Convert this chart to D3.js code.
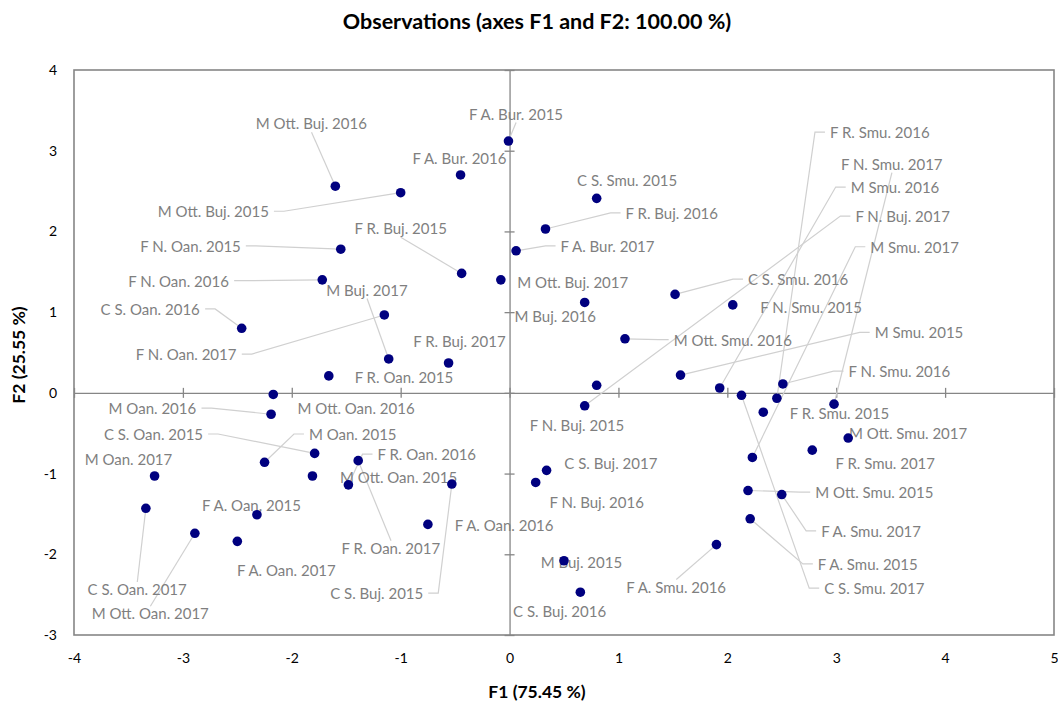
<!DOCTYPE html>
<html>
<head>
<meta charset="utf-8">
<script src="https://cdn.jsdelivr.net/npm/d3@7"></script>
<style>
  body { margin: 0; background: #fff; }
  text { font-family: Lato, "Noto Sans", sans-serif; }
</style>
</head>
<body>
<svg id="chart"></svg>
<script>
// observations, in the order of the source table
var names = [
  'F N. Oan. 2015', 'F N. Oan. 2016', 'F N. Oan. 2017',
  'C S. Oan. 2015', 'C S. Oan. 2016', 'C S. Oan. 2017',
  'M Oan. 2015', 'M Oan. 2016', 'M Oan. 2017',
  'M Ott. Oan. 2015', 'M Ott. Oan. 2016', 'M Ott. Oan. 2017',
  'F R. Oan. 2015', 'F R. Oan. 2016', 'F R. Oan. 2017',
  'F A. Oan. 2015', 'F A. Oan. 2016', 'F A. Oan. 2017',
  'M Ott. Buj. 2015', 'M Ott. Buj. 2016', 'M Ott. Buj. 2017',
  'F R. Buj. 2015', 'F R. Buj. 2016', 'F R. Buj. 2017',
  'M Buj. 2015', 'M Buj. 2016', 'M Buj. 2017',
  'F N. Buj. 2015', 'F N. Buj. 2016', 'F N. Buj. 2017',
  'C S. Buj. 2015', 'C S. Buj. 2016', 'C S. Buj. 2017',
  'F A. Bur. 2015', 'F A. Bur. 2016', 'F A. Bur. 2017',
  'C S. Smu. 2015', 'C S. Smu. 2016', 'C S. Smu. 2017',
  'F N. Smu. 2015', 'F N. Smu. 2016', 'F N. Smu. 2017',
  'M Smu. 2015', 'M Smu. 2016', 'M Smu. 2017',
  'M Ott. Smu. 2015', 'M Ott. Smu. 2016', 'M Ott. Smu. 2017',
  'F R. Smu. 2015', 'F R. Smu. 2016', 'F R. Smu. 2017',
  'F A. Smu. 2015', 'F A. Smu. 2016', 'F A. Smu. 2017'
];

var f1 = [
  -1.55, -1.72, -1.15,
  -1.79, -2.46, -3.34,
  -2.25, -2.19, -3.26,
  -1.81, -2.17, -2.89,
  -1.66, -1.48, -1.39,
  -2.32, -0.75, -2.50,
  -1.00, -1.60, -0.08,
  -0.44, 0.33, -0.56,
  0.50, 0.69, -1.11,
  0.80, 0.24, 0.69,
  -0.53, 0.65, 0.34,
  -0.01, -0.45, 0.06,
  0.80, 1.52, 2.13,
  2.05, 2.51, 2.98,
  1.57, 1.93, 2.23,
  2.19, 1.06, 3.11,
  2.33, 2.455, 2.78,
  2.21, 1.90, 2.50
];

var f2 = [
  1.78, 1.40, 0.965,
  -0.75, 0.80, -1.43,
  -0.86, -0.265, -1.03,
  -1.03, -0.02, -1.74,
  0.21, -1.14, -0.84,
  -1.51, -1.63, -1.84,
  2.48, 2.56, 1.40,
  1.48, 2.03, 0.37,
  -2.08, 1.12, 0.42,
  0.094, -1.11, -0.16,
  -1.13, -2.47, -0.96,
  3.12, 2.70, 1.76,
  2.41, 1.22, -0.03,
  1.09, 0.11, -0.14,
  0.22, 0.06, -0.80,
  -1.21, 0.67, -0.56,
  -0.24, -0.067, -0.71,
  -1.56, -1.88, -1.26
];

// where each label sits, in F1/F2 units
var labelF1 = [
  -2.93, -3.04, -2.97,
  -3.27, -3.30, -3.42,
  -1.44, -3.28, -3.50,
  -1.02, -1.41, -3.30,
  -0.97, -0.76, -1.09,
  -2.37, -0.05, -2.05,
  -2.72, -1.82, 0.58,
  -1.00, 1.49, -0.46,
  0.66, 0.42, -1.31,
  0.62, 0.80, 3.61,
  -1.22, 0.46, 0.93,
  0.06, -0.46, 0.90,
  1.08, 2.65, 3.35,
  2.77, 3.58, 3.51,
  3.76, 3.54, 3.72,
  3.35, 2.05, 3.66,
  3.03, 3.40, 3.45,
  3.29, 1.53, 3.32
];

var labelF2 = [
  1.82, 1.39, 0.48,
  -0.51, 1.04, -2.43,
  -0.51, -0.19, -0.82,
  -1.04, -0.19, -2.73,
  0.20, -0.76, -1.92,
  -1.39, -1.64, -2.19,
  2.25, 3.34, 1.37,
  2.04, 2.23, 0.64,
  -2.10, 0.95, 1.28,
  -0.40, -1.35, 2.19,
  -2.48, -2.70, -0.87,
  3.46, 2.91, 1.82,
  2.64, 1.41, -2.42,
  1.06, 0.27, 2.84,
  0.75, 2.55, 1.81,
  -1.23, 0.66, -0.50,
  -0.25, 3.23, -0.87,
  -2.12, -2.40, -1.71
];

// 1 = label is tied to its point by a leader line
var hasLeader = [
  1, 1, 1,
  1, 1, 1,
  1, 1, 0,
  0, 0, 1,
  0, 1, 1,
  0, 0, 0,
  1, 1, 0,
  1, 1, 0,
  0, 0, 1,
  0, 0, 1,
  1, 0, 0,
  1, 0, 1,
  0, 1, 1,
  0, 1, 1,
  1, 1, 1,
  1, 1, 0,
  0, 1, 0,
  1, 1, 1
];

var xTicks = [-4, -3, -2, -1, 0, 1, 2, 3, 4, 5];
var yTicks = [-3, -2, -1, 0, 1, 2, 3, 4];

var chartTitle = 'Observations (axes F1 and F2: 100.00 %)';
var xTitle = 'F1 (75.45 %)';
var yTitle = 'F2 (25.55 %)';

var data = names.map((n, i) => ({
  name: n, f1: f1[i], f2: f2[i],
  lx: labelF1[i], ly: labelF2[i], leader: hasLeader[i] === 1
}));

var width = 1058;
var height = 702;
var margin = {top: 70, right: 4, bottom: 67, left: 74};
var gray = '#868686';

var svg = d3.select('#chart')
  .attr('width', width)
  .attr('height', height);

var x = d3.scaleLinear()
  .domain([-4, 5])
  .range([margin.left, width - margin.right]);

var y = d3.scaleLinear()
  .domain([-3, 4])
  .range([height - margin.bottom, margin.top]);

// titles
svg.append('text')
  .attr('x', 537).attr('y', 29)
  .attr('text-anchor', 'middle')
  .style('font-weight', 'bold').style('font-size', '21.5px')
  .text(chartTitle);

svg.append('text')
  .attr('x', 537).attr('y', 698)
  .attr('text-anchor', 'middle')
  .style('font-weight', 'bold').style('font-size', '17.5px')
  .text(xTitle);

svg.append('text')
  .attr('transform', 'translate(25,355) rotate(-90)')
  .attr('text-anchor', 'middle')
  .style('font-weight', 'bold').style('font-size', '17.5px')
  .text(yTitle);

// tick labels along the frame
svg.append('g')
  .attr('transform', `translate(0,${height - margin.bottom})`)
  .call(d3.axisBottom(x).tickValues(xTicks).tickSize(0).tickPadding(18).tickFormat(d => String(d)))
  .call(g => g.select('.domain').remove())
  .selectAll('text').style('font-size', '14px').style('fill', '#000');

svg.append('g')
  .attr('transform', `translate(${margin.left},0)`)
  .call(d3.axisLeft(y).tickValues(yTicks).tickSize(0).tickPadding(17).tickFormat(d => String(d)))
  .call(g => g.select('.domain').remove())
  .selectAll('text').style('font-size', '14px').style('fill', '#000');

// axes through the origin
var xAxis0 = svg.append('g')
  .attr('transform', `translate(0,${y(0)})`)
  .call(d3.axisBottom(x).tickValues(xTicks).tickSize(0).tickFormat(''));
xAxis0.selectAll('.tick line').attr('y1', -5).attr('y2', 5);

var yAxis0 = svg.append('g')
  .attr('transform', `translate(${x(0)},0)`)
  .call(d3.axisLeft(y).tickValues(yTicks).tickSize(0).tickFormat(''));
yAxis0.selectAll('.tick line').attr('x1', -5).attr('x2', 5);

svg.selectAll('.domain, .tick line')
  .attr('stroke', gray).attr('stroke-width', 1.3);

// frame
svg.append('rect')
  .attr('x', x(-4)).attr('y', y(4))
  .attr('width', x(5) - x(-4)).attr('height', y(-3) - y(4))
  .attr('fill', 'none')
  .attr('stroke', gray).attr('stroke-width', 1.6);

var leaderG = svg.append('g');
var labelG = svg.append('g');
var pointG = svg.append('g');

var labels = labelG.selectAll('text')
  .data(data)
  .enter()
  .append('text')
  .attr('x', d => x(d.lx))
  .attr('y', d => y(d.ly))
  .attr('text-anchor', 'middle')
  .attr('dominant-baseline', 'central')
  .style('font-size', '15px')
  .style('fill', '#7f7f7f')
  .text(d => d.name);

labels.each(function(d) {
  if (!d.leader) return;
  var b = this.getBBox();
  var px = x(d.f1), py = y(d.f2);
  var cy = b.y + b.height / 2;
  var pts;
  if (px > b.x + b.width + 20) {
    pts = [[b.x + b.width + 5, cy], [b.x + b.width + 15, cy], [px, py]];
  } else if (px < b.x - 20) {
    pts = [[b.x - 5, cy], [b.x - 15, cy], [px, py]];
  } else {
    var sy = py > cy ? b.y + b.height : b.y + 2;
    pts = [[b.x + b.width / 2, sy], [px, py]];
  }
  leaderG.append('path')
    .attr('d', d3.line()(pts))
    .attr('fill', 'none')
    .attr('stroke', '#d0d0d0')
    .attr('stroke-width', 1.2);
});

pointG.selectAll('circle')
  .data(data)
  .enter()
  .append('circle')
  .attr('cx', d => x(d.f1))
  .attr('cy', d => y(d.f2))
  .attr('r', 4.8)
  .attr('fill', '#00007f');
</script>
</body>
</html>
